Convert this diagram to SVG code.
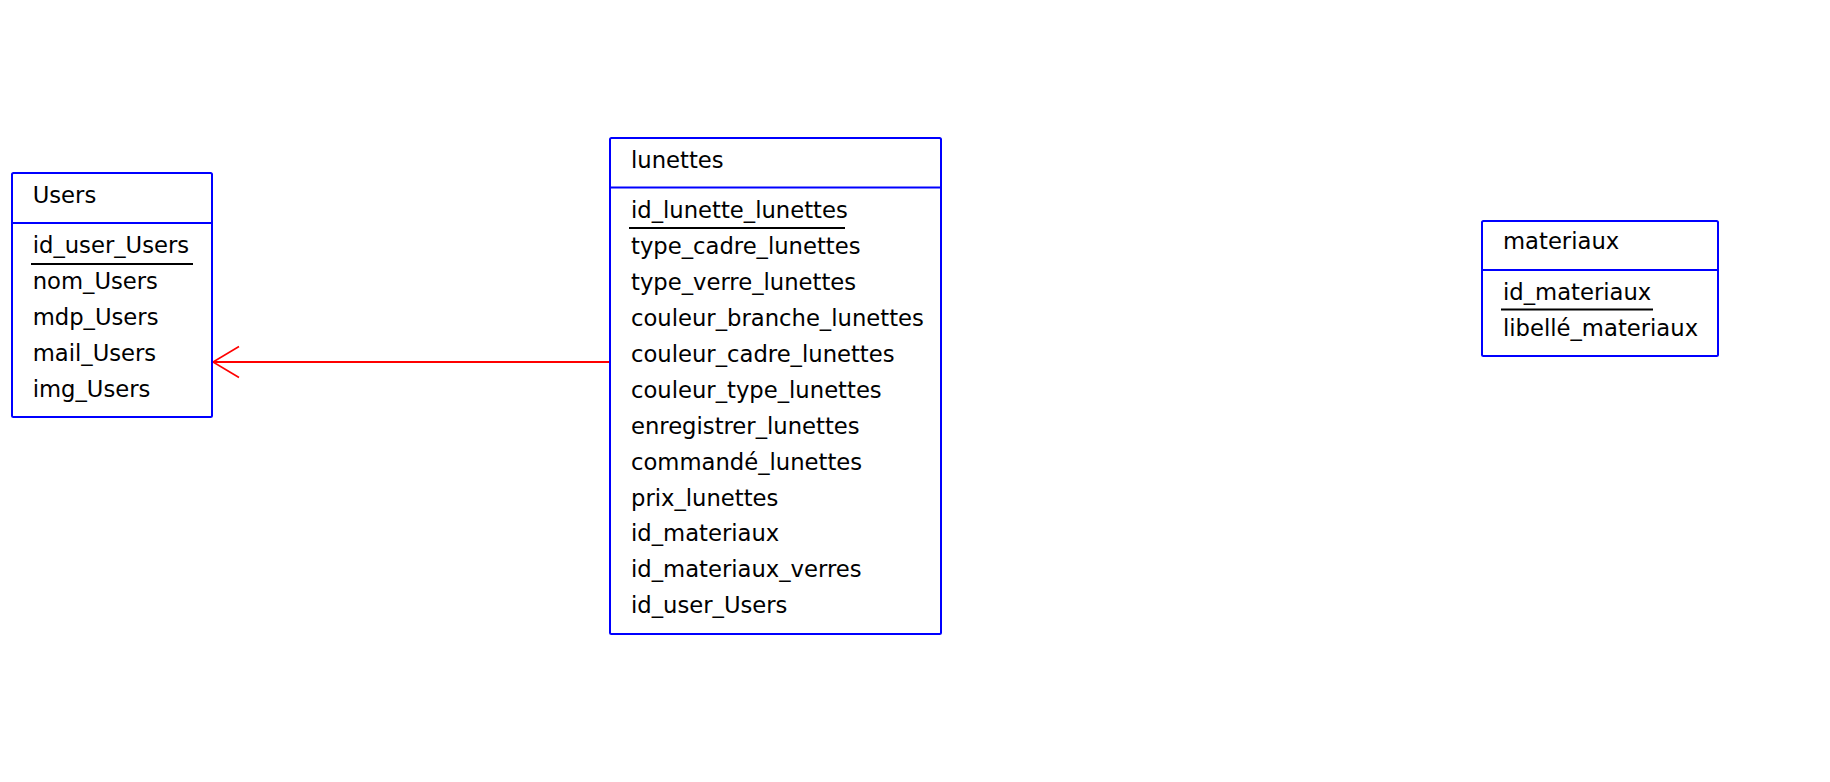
<svg xmlns="http://www.w3.org/2000/svg" width="1830" height="782" viewBox="0 0 1830 782">
<style>
.box{fill:#ffffff;stroke:#0000ff;stroke-width:2}
.div{stroke:#0000ff;stroke-width:2}
.ul{stroke:#000000;stroke-width:2}
text{font-family:"DejaVu Sans","Liberation Sans",sans-serif;font-size:22.7px;fill:#000000}
.conn{stroke:#ff0000;stroke-width:2;fill:none}
.head{stroke:#ff0000;stroke-width:1.6;fill:none}
</style>
<rect width="1830" height="782" fill="#ffffff"/>
<g id="connectors">
<line class="conn" x1="610" y1="362" x2="213" y2="362"/>
<polyline class="head" points="239,346.5 213,362 239,377.5"/>
</g>
<g id="Users">
<rect class="box" x="12" y="173" width="200" height="244" rx="1.5"/>
<line class="div" x1="12" y1="223" x2="212" y2="223"/>
<text x="32.7" y="203">Users</text>
<text x="32.7" y="253">id_user_Users</text>
<line class="ul" x1="31" y1="264" x2="193" y2="264"/>
<text x="32.7" y="289">nom_Users</text>
<text x="32.7" y="325">mdp_Users</text>
<text x="32.7" y="361">mail_Users</text>
<text x="32.7" y="397">img_Users</text>
</g>
<g id="lunettes">
<rect class="box" x="610" y="138" width="331" height="496" rx="1.5"/>
<line class="div" x1="610" y1="187.5" x2="941" y2="187.5"/>
<text x="631" y="167.7">lunettes</text>
<text x="631" y="218.3">id_lunette_lunettes</text>
<line class="ul" x1="629" y1="228" x2="845" y2="228"/>
<text x="631" y="254.2">type_cadre_lunettes</text>
<text x="631" y="290.1">type_verre_lunettes</text>
<text x="631" y="326">couleur_branche_lunettes</text>
<text x="631" y="361.9">couleur_cadre_lunettes</text>
<text x="631" y="397.8">couleur_type_lunettes</text>
<text x="631" y="433.7">enregistrer_lunettes</text>
<text x="631" y="469.6">commandé_lunettes</text>
<text x="631" y="505.5">prix_lunettes</text>
<text x="631" y="541.4">id_materiaux</text>
<text x="631" y="577.3">id_materiaux_verres</text>
<text x="631" y="613.3">id_user_Users</text>
</g>
<g id="materiaux">
<rect class="box" x="1482" y="221" width="236" height="135" rx="1.5"/>
<line class="div" x1="1482" y1="270" x2="1718" y2="270"/>
<text x="1503" y="249.3">materiaux</text>
<text x="1503" y="300">id_materiaux</text>
<line class="ul" x1="1501" y1="309.5" x2="1653" y2="309.5"/>
<text x="1503" y="336">libellé_materiaux</text>
</g>
</svg>
